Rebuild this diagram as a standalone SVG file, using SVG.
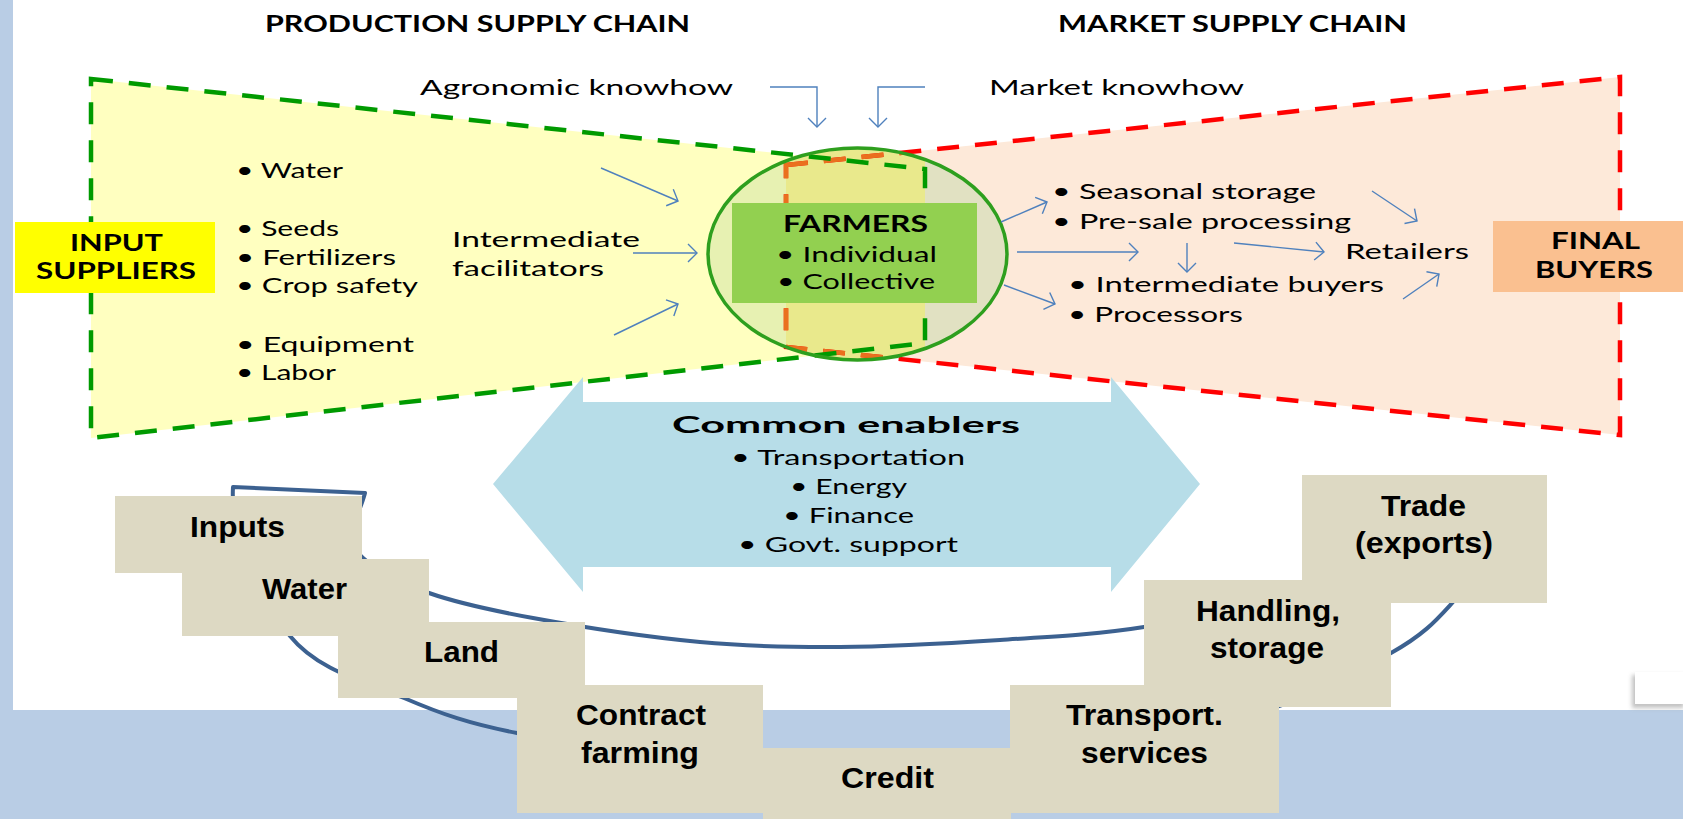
<svg xmlns="http://www.w3.org/2000/svg" width="1683" height="819" viewBox="0 0 1683 819">
<defs>
<style>
.t{font-family:Lato,"Open Sans","DejaVu Sans",sans-serif;font-size:21px;fill:#000}
.tb{font-family:Lato,"Open Sans","DejaVu Sans",sans-serif;font-size:22px;font-weight:bold;fill:#000}
.bx{font-family:"Liberation Sans",Arial,sans-serif;font-weight:bold;font-size:29px;fill:#000}
.arr{stroke:#4F81BD;stroke-width:1.4;fill:none;marker-end:url(#ah)}
.box{fill:#DDD9C3}
.gd{fill:none;stroke:#009A00;stroke-width:4.5;stroke-dasharray:22 16;stroke-linejoin:miter}
.rd{fill:none;stroke:#FF0000;stroke-width:4.5;stroke-dasharray:22 16;stroke-linejoin:miter}
</style>
<marker id="ah" markerUnits="userSpaceOnUse" viewBox="-12 -12 14 24" markerWidth="14" markerHeight="24" refX="0" refY="0" orient="auto" overflow="visible">
<path d="M-9,-9 L0,0 L-9,9" fill="none" stroke="#4F81BD" stroke-width="1.4"/>
</marker>
<clipPath id="circ"><ellipse cx="857.5" cy="254" rx="149.5" ry="106"/></clipPath>
<filter id="sh" x="-20%" y="-20%" width="140%" height="160%"><feGaussianBlur stdDeviation="2"/></filter>
</defs>

<g id="background">
<rect x="0" y="0" width="1683" height="819" fill="#FFFFFF"/>
<rect x="0" y="0" width="13" height="819" fill="#B9CDE5"/>
<rect x="0" y="710" width="1683" height="109" fill="#B9CDE5"/>
<rect x="1632" y="675" width="52" height="33" fill="#A8A8A8" opacity="0.7" filter="url(#sh)"/>
<rect x="1635" y="672" width="48" height="32" fill="#FFFFFF"/>
</g>

<g id="supply-chains">
<polygon points="91,79 925,169 925,343 91,438" fill="#FFFFC0"/>
<polygon points="786,165 1620,77 1620,435 786,347" fill="#FDE9D9"/>
<g clip-path="url(#circ)">
<rect x="700" y="140" width="86" height="230" fill="#E7F1B2"/>
<rect x="786" y="140" width="139" height="230" fill="#E9E98C"/>
<rect x="925" y="140" width="90" height="230" fill="#E1E1C2"/>
</g>
</g>

<g id="common-enablers">
<polygon points="493,484 583,377 583,402 1111,402 1111,377 1200,484 1111,592 1111,567 583,567 583,592" fill="#B7DDE8"/>
<text class="tb" x="672" y="433" font-size="26" textLength="348" lengthAdjust="spacingAndGlyphs">Common enablers</text>
<text class="t" x="731" y="465" textLength="234" lengthAdjust="spacingAndGlyphs">• Transportation</text>
<text class="t" x="790" y="494" textLength="117" lengthAdjust="spacingAndGlyphs">• Energy</text>
<text class="t" x="783" y="523" textLength="131" lengthAdjust="spacingAndGlyphs">• Finance</text>
<text class="t" x="738" y="552" textLength="220" lengthAdjust="spacingAndGlyphs">• Govt. support</text>
</g>

<g id="chain-outlines">
<polygon class="rd" points="786,165 1620,77 1620,435 786,347"/>
<g clip-path="url(#circ)">
<polygon class="rd" points="786,165 1620,77 1620,435 786,347" style="stroke:#EA701E"/>
</g>
<polygon class="gd" points="91,79 925,169 925,343 91,438"/>
<ellipse cx="857.5" cy="254" rx="149.5" ry="106" fill="none" stroke="#2E9F1E" stroke-width="3.5"/>
</g>

<g id="titles">
<text class="tb" x="265" y="32" textLength="425" lengthAdjust="spacingAndGlyphs">PRODUCTION SUPPLY CHAIN</text>
<text class="tb" x="1058" y="32" textLength="349" lengthAdjust="spacingAndGlyphs">MARKET SUPPLY CHAIN</text>
<text class="t" x="420" y="95" font-size="22" textLength="313" lengthAdjust="spacingAndGlyphs">Agronomic knowhow</text>
<text class="t" x="989" y="95" font-size="22" textLength="255" lengthAdjust="spacingAndGlyphs">Market knowhow</text>
</g>

<g id="production-items">
<text class="t" x="236" y="178" textLength="107" lengthAdjust="spacingAndGlyphs">• Water</text>
<text class="t" x="236" y="236" textLength="103" lengthAdjust="spacingAndGlyphs">• Seeds</text>
<text class="t" x="236" y="265" textLength="160" lengthAdjust="spacingAndGlyphs">• Fertilizers</text>
<text class="t" x="236" y="293" textLength="182" lengthAdjust="spacingAndGlyphs">• Crop safety</text>
<text class="t" x="236" y="352" textLength="178" lengthAdjust="spacingAndGlyphs">• Equipment</text>
<text class="t" x="236" y="380" textLength="100" lengthAdjust="spacingAndGlyphs">• Labor</text>
<text class="t" x="452" y="247" textLength="188" lengthAdjust="spacingAndGlyphs">Intermediate</text>
<text class="t" x="452" y="276" textLength="152" lengthAdjust="spacingAndGlyphs">facilitators</text>
</g>

<g id="market-items">
<text class="t" x="1052" y="199" font-size="22" textLength="264" lengthAdjust="spacingAndGlyphs">• Seasonal storage</text>
<text class="t" x="1052" y="229" font-size="22" textLength="299" lengthAdjust="spacingAndGlyphs">• Pre-sale processing</text>
<text class="t" x="1068" y="292" font-size="22" textLength="316" lengthAdjust="spacingAndGlyphs">• Intermediate buyers</text>
<text class="t" x="1068" y="322" font-size="22" textLength="175" lengthAdjust="spacingAndGlyphs">• Processors</text>
<text class="t" x="1345" y="259" textLength="124" lengthAdjust="spacingAndGlyphs">Retailers</text>
</g>

<g id="farmers">
<rect x="732" y="203" width="245" height="100" fill="#92D050"/>
<text class="tb" x="783" y="232" font-size="21" textLength="145" lengthAdjust="spacingAndGlyphs">FARMERS</text>
<text class="t" x="776" y="262" textLength="161" lengthAdjust="spacingAndGlyphs">• Individual</text>
<text class="t" x="777" y="289" textLength="158" lengthAdjust="spacingAndGlyphs">• Collective</text>
</g>

<g id="input-suppliers">
<rect x="15" y="222" width="200" height="71" fill="#FFFF00"/>
<text class="tb" x="70" y="251" textLength="93" lengthAdjust="spacingAndGlyphs">INPUT</text>
<text class="tb" x="36" y="279" textLength="160" lengthAdjust="spacingAndGlyphs">SUPPLIERS</text>
</g>

<g id="final-buyers">
<rect x="1493" y="221" width="190" height="71" fill="#FAC090"/>
<text class="tb" x="1551" y="249" textLength="89" lengthAdjust="spacingAndGlyphs">FINAL</text>
<text class="tb" x="1535" y="278" textLength="118" lengthAdjust="spacingAndGlyphs">BUYERS</text>
</g>

<g id="connectors">
<polyline class="arr" points="770,87 817,87 817,127"/>
<polyline class="arr" points="925,87 878,87 878,127"/>
<line class="arr" x1="601" y1="168" x2="678" y2="201"/>
<line class="arr" x1="633" y1="253" x2="697" y2="253"/>
<line class="arr" x1="614" y1="335" x2="678" y2="304"/>
<line class="arr" x1="1001" y1="222" x2="1047" y2="202"/>
<line class="arr" x1="1017" y1="252" x2="1138" y2="252"/>
<line class="arr" x1="1004" y1="285" x2="1055" y2="304"/>
<line class="arr" x1="1187" y1="243" x2="1187" y2="272"/>
<line class="arr" x1="1234" y1="243" x2="1324" y2="252"/>
<line class="arr" x1="1372" y1="191" x2="1417" y2="221"/>
<line class="arr" x1="1403" y1="299" x2="1439" y2="274"/>
</g>

<g id="loop">
<path d="M1390,555 C1360,567 1341,580 1300,592 C1259,604 1194,619 1144,627 C1094,635 1050.7,636.7 1000,640 C949.3,643.3 890,646.7 840,647 C790,647.3 751.2,646.8 700,642 C648.8,637.2 577.5,626.2 533,618 C488.5,609.8 457.3,603 429,593 C400.7,583 375.2,569.3 363,558 C350.8,546.7 355.7,535.8 356,525 C356.3,514.2 362,505 365,493 L233,487 C230,540 261.5,600.8 290,636 C318.5,671.2 366.2,681.8 404,698 C441.8,714.2 470,724 517,733 C576.3,746.3 677.8,771.5 760,778 C842.2,784.5 928.3,782.3 1010,772 C1091.7,761.7 1186.5,735.8 1250,716 C1313.5,696.2 1357.2,672 1391,653 C1424.8,634 1436.5,620 1453,602 C1469.5,584 1477.7,564 1490,545 Z" fill="none" stroke="#3C6190" stroke-width="4" stroke-linejoin="round"/>
</g>

<g id="box-inputs"><rect class="box" x="115" y="496" width="247" height="77"/><text class="bx" x="190" y="537" textLength="95" lengthAdjust="spacingAndGlyphs">Inputs</text></g>
<g id="box-water"><rect class="box" x="182" y="559" width="247" height="77"/><text class="bx" x="262" y="599" textLength="85" lengthAdjust="spacingAndGlyphs">Water</text></g>
<g id="box-land"><rect class="box" x="338" y="622" width="247" height="76"/><text class="bx" x="424" y="662" textLength="75" lengthAdjust="spacingAndGlyphs">Land</text></g>
<g id="box-contract"><rect class="box" x="517" y="685" width="246" height="128"/><text class="bx" x="576" y="725" textLength="130" lengthAdjust="spacingAndGlyphs">Contract</text><text class="bx" x="581" y="763" textLength="118" lengthAdjust="spacingAndGlyphs">farming</text></g>
<g id="box-credit"><rect class="box" x="763" y="748" width="248" height="71"/><text class="bx" x="841" y="788" textLength="93" lengthAdjust="spacingAndGlyphs">Credit</text></g>
<g id="box-transport"><rect class="box" x="1010" y="685" width="269" height="128"/><text class="bx" x="1066" y="725" textLength="157" lengthAdjust="spacingAndGlyphs">Transport.</text><text class="bx" x="1081" y="763" textLength="127" lengthAdjust="spacingAndGlyphs">services</text></g>
<g id="box-handling"><rect class="box" x="1144" y="580" width="247" height="127"/><text class="bx" x="1196" y="621" textLength="144" lengthAdjust="spacingAndGlyphs">Handling,</text><text class="bx" x="1210" y="658" textLength="114" lengthAdjust="spacingAndGlyphs">storage</text></g>
<g id="box-trade"><rect class="box" x="1302" y="475" width="245" height="128"/><text class="bx" x="1381" y="516" textLength="85" lengthAdjust="spacingAndGlyphs">Trade</text><text class="bx" x="1355" y="553" textLength="138" lengthAdjust="spacingAndGlyphs">(exports)</text></g>
</svg>
